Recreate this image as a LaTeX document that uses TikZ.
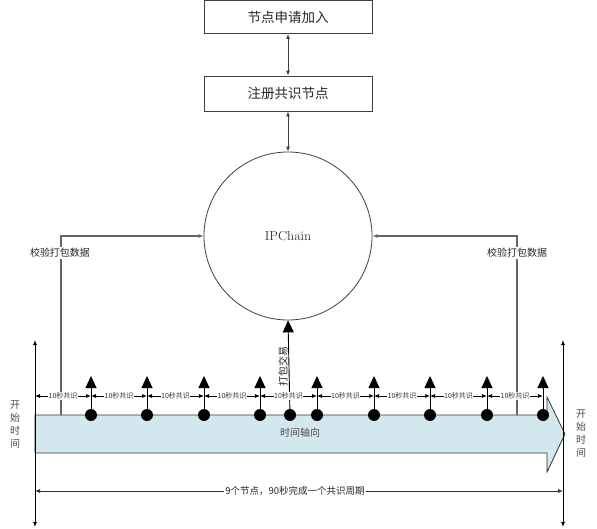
\documentclass[tikz,border=0pt]{standalone}
\usepackage{fontspec}
\newfontfamily\cjk{Noto Sans CJK SC}
\usetikzlibrary{arrows.meta}
\definecolor{barfill}{RGB}{210,232,238}
\begin{document}
\begin{tikzpicture}[x=1pt,y=-1pt,
  box/.style={draw=black!75, line width=0.8pt, minimum width=168pt, inner sep=0pt,
    font=\cjk\fontsize{13.5}{15}\selectfont, text=black!85},
  conn/.style={draw=black!75, line width=0.9pt},
  tipsm/.style={{Latex[length=5pt,width=4pt]}-{Latex[length=5pt,width=4pt]}},
  feed/.style={draw=black!60, line width=1.3pt, -{Latex[length=5pt,width=4pt]}},
  dot/.style={circle, fill=black, minimum size=12pt, inner sep=0pt},
  uparrow/.style={draw=black, line width=0.9pt, -{Triangle[length=12pt,width=11pt]}},
  dimlab/.style={fill=white, inner sep=0.5pt, font=\cjk\fontsize{7}{8}\selectfont, text=black!80},
  lab/.style={font=\cjk\fontsize{10}{12}\selectfont, text=black!85},
  vlab/.style={font=\cjk\fontsize{10}{13}\selectfont, align=center}
]
\useasboundingbox (0,0) rectangle (597,529);

% top boxes
\node[box, minimum height=33pt] (b1) at (288,17) {节点申请加入};
\node[box, minimum height=35pt] (b2) at (288,93.5) {注册共识节点};
\node[circle, draw=black!75, line width=0.8pt, minimum size=168pt, inner sep=0pt,
  font=\fontsize{13}{15}\selectfont, text=black!80] (ipc) at (288,236) {IPChain};
\draw[conn, tipsm] (b1.south) -- (b2.north);
\draw[conn, tipsm] (b2.south) -- (ipc.north);

% time bar (big arrow)
\draw[draw=black!80, line width=0.8pt, fill=barfill]
  (35,415) -- (547,415) -- (547,397) -- (565,434) -- (547,472) -- (547,453) -- (35,453) -- cycle;
\node[lab, text=black!70] (tl) at (300,433) {时间轴向};

% vertical axes
\coordinate (la1) at (35,340); \coordinate (la2) at (35,527);
\coordinate (ra1) at (563,340); \coordinate (ra2) at (563,527);
\draw[line width=0.9pt, tipsm] (la1) -- (la2);
\draw[line width=0.9pt, tipsm] (ra1) -- (ra2);
\node[vlab, text=black!70] (lst) at (15,425) {开\\始\\时\\间};
\node[vlab, text=black!70] (rst) at (581,434) {开\\始\\时\\间};

% feedback lines
\coordinate (fl0) at (61,415); \coordinate (fl1) at (61,236);
\coordinate (fr0) at (517,415); \coordinate (fr1) at (517,236);
\draw[feed] (fl0) -- (fl1) -- (ipc.west);
\draw[feed] (fr0) -- (fr1) -- (ipc.east);
\node[lab, fill=white, inner sep=1pt] (fll) at (60,253) {校验打包数据};
\node[lab, fill=white, inner sep=1pt] (frl) at (517,253) {校验打包数据};

% nodes on time axis
\foreach \i/\x in {1/91,2/147,3/204,4/260,5/317,6/374,7/430,8/487,9/543}{
  \node[dot] (d\i) at (\x,415) {};
  \coordinate (t\i) at (\x,376);
  \draw[uparrow] (d\i.center) -- (t\i);
}
\node[dot] (dp) at (290,415) {};
\draw[uparrow] (dp.center) -- (ipc.south);
\node[font=\cjk\fontsize{10}{11}\selectfont, text=black!85, rotate=90, fill=white, inner sep=0.5pt] (pk) at (283,366) {打包交易};

% 10 s segments
\foreach \a/\b in {35/91,91/147,147/204,204/260,260/317,317/374,374/430,430/487,487/543}{
  \coordinate (sa\a) at (\a,396); \coordinate (sb\a) at (\b,396);
  \draw[line width=0.8pt, tipsm] (sa\a) -- (sb\a);
  \node[dimlab] (sl\a) at ({(\a+\b)/2},396) {10秒共识};
}

% bottom dimension
\coordinate (bd1) at (35,491); \coordinate (bd2) at (563,491);
\draw[line width=0.8pt, draw=black!80, tipsm] (bd1) -- (bd2);
\node[fill=white, inner sep=1pt, font=\cjk\fontsize{9.5}{11}\selectfont, text=black!85] (bl) at (295,491) {9个节点，90秒完成一个共识周期};
\end{tikzpicture}
\end{document}
